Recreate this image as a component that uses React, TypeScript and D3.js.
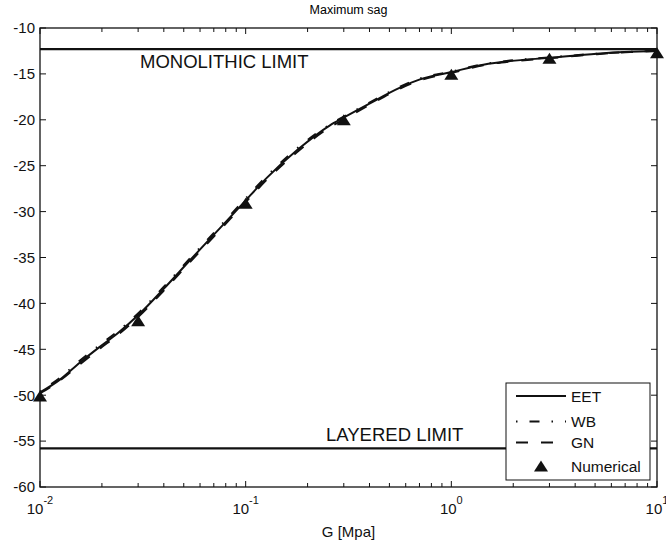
import React from "react";
import * as d3 from "d3";

// Shear modulus G [MPa] at which the analytical curves are evaluated
const gValues = [
  0.01, 0.0125, 0.0157, 0.0196, 0.0237, 0.0306, 0.0396, 0.0536, 0.075, 0.097,
  0.127, 0.178, 0.257, 0.297, 0.402, 0.563, 0.704, 1.0, 1.43, 1.93, 2.99, 5.1,
  7.4, 10,
];

// Maximum sag for each analytical model
const eetValues = [
  -49.7, -48.3, -46.4, -44.7, -43.3, -41.1, -38.5, -35.3, -31.8, -29.1, -26.3,
  -23.3, -20.6, -19.8, -18.2, -16.5, -15.6, -14.8, -14.0, -13.6, -13.25, -12.8,
  -12.6, -12.5,
];
const wbValues = [
  -49.6, -48.1, -46.2, -44.5, -43.1, -40.9, -38.3, -35.1, -31.6, -28.9, -26.1,
  -23.1, -20.5, -19.7, -18.1, -16.4, -15.5, -14.75, -13.95, -13.55, -13.2,
  -12.8, -12.6, -12.5,
];
const gnValues = [
  -49.8, -48.4, -46.6, -44.9, -43.5, -41.3, -38.7, -35.5, -32.0, -29.3, -26.5,
  -23.5, -20.8, -20.0, -18.35, -16.6, -15.7, -14.9, -14.05, -13.65, -13.3,
  -12.85, -12.62, -12.5,
];

// Numerical (FE) results
const numG = [0.01, 0.03, 0.1, 0.3, 1, 3, 10];
const numSag = [-50.1, -41.9, -29.1, -20.0, -15.05, -13.3, -12.7];

// Bounds
const monolithicLimit = -12.3;
const layeredLimit = -55.8;

const yTicks = [-10, -15, -20, -25, -30, -35, -40, -45, -50, -55, -60];
const xMajorTicks = [0.01, 0.1, 1, 10];
const xExponents = ["-2", "-1", "0", "1"];

const legendItems = ["EET", "WB", "GN", "Numerical"];

const W = 666;
const H = 545;
const left = 40;
const right = 657;
const top = 28;
const bottom = 487;
const font = "'Liberation Sans', Arial, Helvetica, sans-serif";

export default function App() {
  const x = d3.scaleLog().domain([0.01, 10]).range([left, right]);
  const y = d3.scaleLinear().domain([-60, -10]).range([bottom, top]);

  const line = d3
    .line<number>()
    .x((_, i) => x(gValues[i]))
    .y((d) => y(d))
    .curve(d3.curveMonotoneX);

  const minorTicks: number[] = [];
  for (let e = -2; e < 1; e++) {
    for (let m = 2; m <= 9; m++) minorTicks.push(m * Math.pow(10, e));
  }

  const tri = "M0,-5.5L7,5.5L-7,5.5Z";

  const lgX = 506;
  const lgY = 383;
  const lgW = 144;
  const lgH = 97;
  const rowY = [396, 421.5, 442.5, 466];

  return (
    <svg width={W} height={H} style={{ position: "absolute", left: 0, top: 0, background: "#fff" }} fontFamily={font}>
      <rect x={0} y={0} width={W} height={H} fill="#fff" />
      {/* title */}
      <text x={(left + right) / 2} y={14} textAnchor="middle" fontSize={12.5} fill="#000">
        Maximum sag
      </text>

      {/* limit lines */}
      <line x1={left} x2={right} y1={y(monolithicLimit)} y2={y(monolithicLimit)} stroke="#111" strokeWidth={2.2} />
      <line x1={left} x2={right} y1={y(layeredLimit)} y2={y(layeredLimit)} stroke="#111" strokeWidth={2.2} />
      <text x={140} y={68} fontSize={18.5} fill="#111">MONOLITHIC LIMIT</text>
      <text x={326} y={441} fontSize={18.5} fill="#111">LAYERED LIMIT</text>

      {/* model curves */}
      <path d={line(eetValues) ?? ""} fill="none" stroke="#111" strokeWidth={2} />
      <path d={line(wbValues) ?? ""} fill="none" stroke="#111" strokeWidth={2} strokeDasharray="1.5 12 10 12" />
      <path d={line(gnValues) ?? ""} fill="none" stroke="#111" strokeWidth={2} strokeDasharray="12 13" />

      {/* numerical points */}
      {numG.map((g, i) => (
        <path key={i} d={tri} transform={`translate(${x(g)},${y(numSag[i])})`} fill="#111" />
      ))}

      {/* axes box */}
      <rect x={left} y={top} width={right - left} height={bottom - top} fill="none" stroke="#111" strokeWidth={1.3} />

      {/* y ticks */}
      {yTicks.map((t) => (
        <g key={t}>
          <line x1={left} x2={left + 6} y1={y(t)} y2={y(t)} stroke="#111" strokeWidth={1} />
          <line x1={right} x2={right - 6} y1={y(t)} y2={y(t)} stroke="#111" strokeWidth={1} />
          <text x={35} y={y(t) + 5.3} textAnchor="end" fontSize={15} fill="#111">
            {t}
          </text>
        </g>
      ))}

      {/* x ticks */}
      {xMajorTicks.map((t, i) => (
        <g key={t}>
          <line x1={x(t)} x2={x(t)} y1={bottom} y2={bottom - 6} stroke="#111" strokeWidth={1} />
          <line x1={x(t)} x2={x(t)} y1={top} y2={top + 6} stroke="#111" strokeWidth={1} />
          <text x={x(t)} y={514} textAnchor="middle" fontSize={15} fill="#111">
            10
            <tspan dy={-10} fontSize={11}>
              {xExponents[i]}
            </tspan>
          </text>
        </g>
      ))}
      {minorTicks.map((t) => (
        <g key={t}>
          <line x1={x(t)} x2={x(t)} y1={bottom} y2={bottom - 4} stroke="#111" strokeWidth={1} />
          <line x1={x(t)} x2={x(t)} y1={top} y2={top + 4} stroke="#111" strokeWidth={1} />
        </g>
      ))}

      <text x={(left + right) / 2} y={537} textAnchor="middle" fontSize={15} fill="#111">
        G [Mpa]
      </text>

      {/* legend */}
      <rect x={lgX} y={lgY} width={lgW} height={lgH} fill="#fff" stroke="#111" strokeWidth={1} />
      <line x1={516} x2={566} y1={rowY[0]} y2={rowY[0]} stroke="#111" strokeWidth={2} />
      <line x1={516} x2={566} y1={rowY[1]} y2={rowY[1]} stroke="#111" strokeWidth={2} strokeDasharray="1.5 12 10 12" />
      <line x1={516} x2={566} y1={rowY[2]} y2={rowY[2]} stroke="#111" strokeWidth={2} strokeDasharray="12 13" />
      <path d={tri} transform={`translate(541,${rowY[3]})`} fill="#111" />
      {legendItems.map((s, i) => (
        <text key={s} x={571} y={rowY[i] + 5.5} fontSize={15.5} fill="#111">
          {s}
        </text>
      ))}
    </svg>
  );
}
